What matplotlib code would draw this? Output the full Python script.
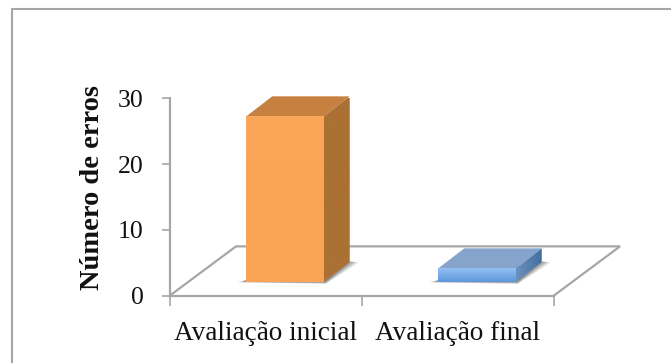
import matplotlib

matplotlib.use("Agg")
import matplotlib.pyplot as plt
import numpy as np
from matplotlib.colors import LinearSegmentedColormap
from matplotlib.lines import Line2D
from matplotlib.patches import Polygon

categories = ["Avaliação inicial", "Avaliação final"]
values = [25.2, 2.05]
y_ticks = [0, 10, 20, 30]

W, H = 671, 363
GREY = "#a6a6a6"
INK = "#111111"

plt.rcParams["font.family"] = ["Liberation Serif", "DejaVu Serif"]

fig = plt.figure(figsize=(W / 100, H / 100), dpi=100)
fig.patch.set_facecolor("white")

# outer frame only shows on the top and left edges
fig.add_artist(Line2D([11.5 / W, 11.5 / W, 1], [0, 1 - 8.5 / H, 1 - 8.5 / H],
                      color=GREY, lw=1.5, solid_joinstyle="miter"))

# axes box runs from the front floor edge up to the 30 tick
ax = fig.add_axes([170 / W, 1 - 295.5 / H, 384 / W, 197 / H])
ax.patch.set_alpha(0)
for name in ("top", "right"):
    ax.spines[name].set_visible(False)
for name in ("left", "bottom"):
    ax.spines[name].set_color(GREY)
    ax.spines[name].set_linewidth(1.6)

ax.set_yticks(y_ticks)
ax.set_xticks(range(len(categories) + 1))
ax.set_xticklabels([])
ax.tick_params(axis="y", color=GREY, width=1.2, length=6, pad=13, labelsize=18.5, labelcolor=INK)
ax.tick_params(axis="x", color=GREY, width=1.2, length=7)
for i, name in enumerate(categories):
    ax.text(i + 0.5, -6.8, name, ha="center", va="baseline", fontsize=19.6, color=INK)
ax.set_ylabel("Número de erros", fontsize=20.5, fontweight="bold", color=INK, va="center")
ax.yaxis.set_label_coords(-0.203, 0.548)

# receding floor, offsets are in data units
px_x = 1 / 192
px_y = 1 / 6.55
floor_dx = 66 * px_x
floor_dy = 49 * px_y
ax.plot([0, floor_dx, 2 + floor_dx, 2], [0, floor_dy, floor_dy, 0],
        color=GREY, lw=1.6, clip_on=False, zorder=1, solid_joinstyle="miter")

bar_w = 77.5 * px_x
front_dx = 19 * px_x
front_dy = 13.6 * px_y
side_dx = 26 * px_x
side_dy = 20 * px_y
styles = [
    dict(front=("#fba658", "#f9a354"), top="#c6803f", side=("#ab7034", "#ab7034")),
    dict(front=("#93c0f4", "#5c97da"), top="#85a3cb", side=("#6d90bd", "#41709f")),
]

for i, val in enumerate(values):
    x0 = i + 0.5 - bar_w / 2 + front_dx
    x1 = x0 + bar_w
    y0 = front_dy
    y1 = y0 + val
    st = styles[i]

    # soft contact shadow along the front and side base edges
    for grow, a in zip((1.0, 0.65, 0.3), (0.22, 0.32, 0.45)):
        gx = grow * 9 * px_x
        gy = grow * 2 * px_y
        ax.add_patch(Polygon([(x0 - gx, y0 - gy * 0.2), (x1 + 2 * px_x, y0 - gy),
                              (x1 + side_dx + gx, y0 + side_dy + 1.5 * px_y - gy),
                              (x1 + side_dx, y0 + side_dy), (x0, y0 + 2 * px_y)],
                             closed=True, fc="#666666", ec="none", alpha=a, zorder=2, clip_on=False))

    # front face with a vertical ramp
    cmap = LinearSegmentedColormap.from_list("front", [st["front"][1], st["front"][0]])
    ax.imshow(np.linspace(0, 1, 64)[:, None], origin="lower", extent=(x0, x1, y0, y1),
              aspect="auto", cmap=cmap, zorder=4, clip_on=False)

    # top and side faces
    ax.add_patch(Polygon([(x0, y1), (x1, y1), (x1 + side_dx, y1 + side_dy), (x0 + side_dx, y1 + side_dy)],
                         closed=True, fc=st["top"], ec="none", zorder=3, clip_on=False))
    side_cmap = LinearSegmentedColormap.from_list("side", [st["side"][0], st["side"][1]])
    side_img = ax.imshow(np.linspace(0, 1, 32)[None, :], origin="lower",
                         extent=(x1, x1 + side_dx, y0, y1 + side_dy),
                         aspect="auto", cmap=side_cmap, zorder=3, clip_on=True)
    side_poly = Polygon([(x1, y0), (x1 + side_dx, y0 + side_dy), (x1 + side_dx, y1 + side_dy), (x1, y1)],
                        closed=True, fc="none", ec="none")
    ax.add_patch(side_poly)
    side_img.set_clip_path(side_poly)

ax.set_xlim(0, len(categories))
ax.set_ylim(0, 30)

fig.savefig("out.png", dpi=100, facecolor="white")
plt.close(fig)
